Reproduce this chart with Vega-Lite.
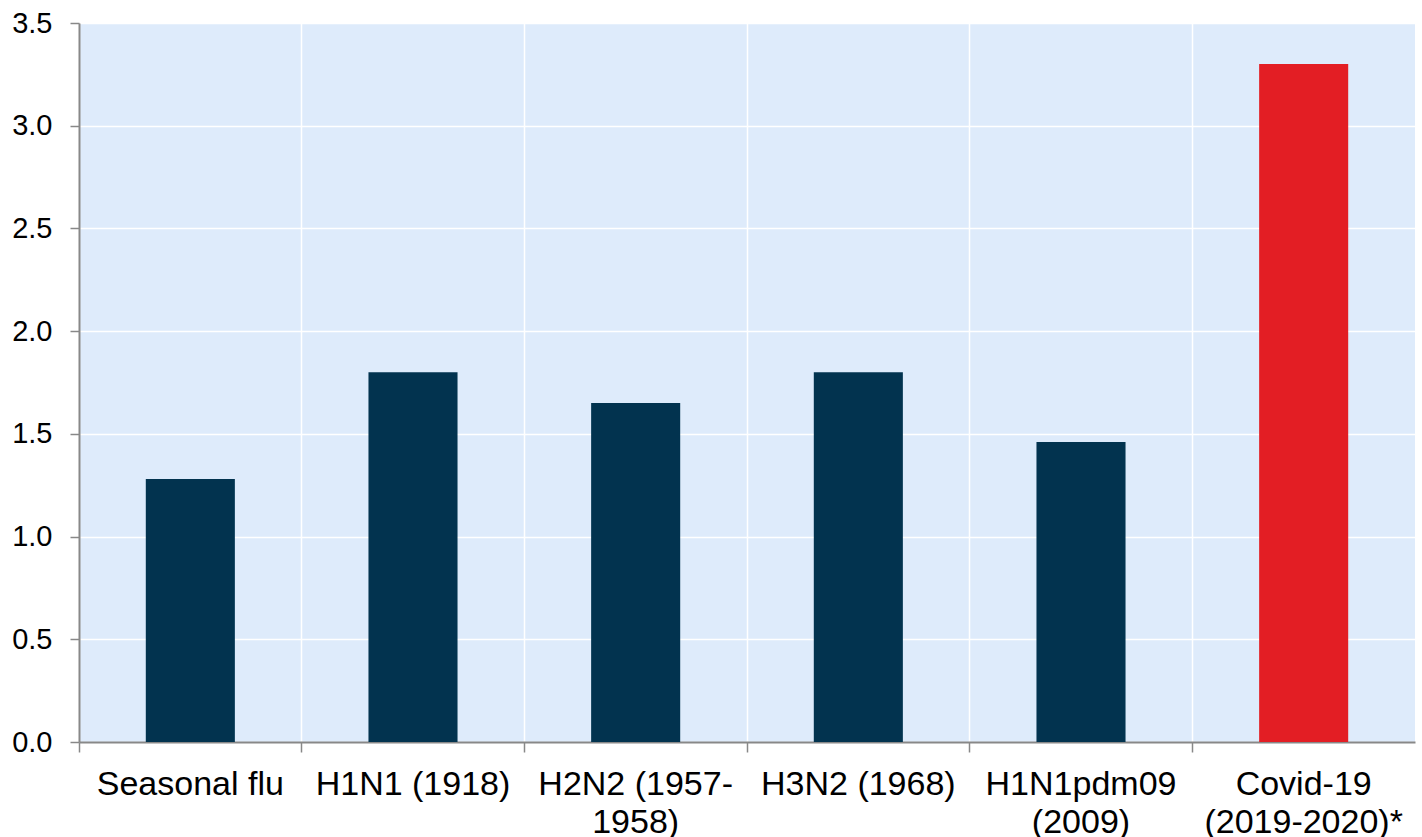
{
  "$schema": "https://vega.github.io/schema/vega-lite/v6.json",
  "width": 1336,
  "height": 719,
  "autosize": {"type": "none"},
  "padding": {"left": 79, "top": 23, "right": 7, "bottom": 95},
  "background": "white",
  "config": {
    "font": "Liberation Sans",
    "view": {"fill": "#DEEBFB", "stroke": null}
  },
  "data": {
    "values": [
      {"name": "Seasonal flu", "value": 1.28},
      {"name": "H1N1 (1918)", "value": 1.80},
      {"name": "H2N2 (1957-1958)", "value": 1.65},
      {"name": "H3N2 (1968)", "value": 1.80},
      {"name": "H1N1pdm09 (2009)", "value": 1.46},
      {"name": "Covid-19 (2019-2020)*", "value": 3.30}
    ]
  },
  "mark": {"type": "bar", "width": {"band": 0.4}},
  "encoding": {
    "x": {
      "field": "name",
      "type": "nominal",
      "sort": null,
      "scale": {"paddingInner": 0, "paddingOuter": 0},
      "axis": {
        "title": null,
        "bandPosition": 0,
        "labelAngle": 0,
        "labelFontSize": 34,
        "labelColor": "#000000",
        "labelLineHeight": 38,
        "labelPadding": 15,
        "labelLimit": 0,
        "labelBound": false,
        "labelOverlap": false,
        "labelBaseline": "top",
        "labelExpr": "datum.value == 'H2N2 (1957-1958)' ? ['H2N2 (1957-', '1958)'] : datum.value == 'H1N1pdm09 (2009)' ? ['H1N1pdm09', '(2009)'] : datum.value == 'Covid-19 (2019-2020)*' ? ['Covid-19', '(2019-2020)*'] : datum.value",
        "grid": true,
        "gridColor": "#FFFFFF",
        "gridWidth": 1.5,
        "gridOpacity": 1,
        "domainColor": "#888888",
        "domainWidth": 2,
        "tickColor": "#888888",
        "tickWidth": 1.5,
        "tickSize": 10
      }
    },
    "y": {
      "field": "value",
      "type": "quantitative",
      "scale": {"domain": [0, 3.5], "nice": false},
      "axis": {
        "title": null,
        "values": [0, 0.5, 1, 1.5, 2, 2.5, 3, 3.5],
        "format": ".1f",
        "labelFontSize": 29,
        "labelColor": "#000000",
        "labelPadding": 18,
        "grid": true,
        "gridColor": "#FFFFFF",
        "gridWidth": 1.5,
        "gridOpacity": 1,
        "domainColor": "#888888",
        "domainWidth": 2,
        "tickColor": "#888888",
        "tickWidth": 1.5,
        "tickSize": 9
      }
    },
    "color": {
      "condition": {"test": "datum.name == 'Covid-19 (2019-2020)*'", "value": "#E31E24"},
      "value": "#02334F"
    }
  }
}
